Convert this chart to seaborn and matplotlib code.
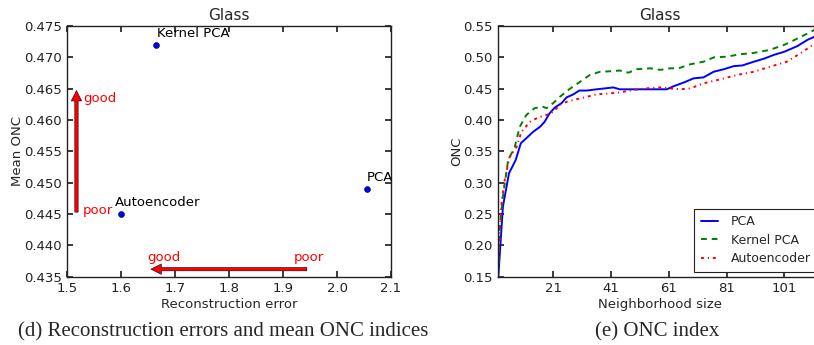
import matplotlib
matplotlib.use("Agg")
import matplotlib.pyplot as plt
import seaborn as sns
import pandas as pd

# ---------------- data ----------------
methods = ["PCA", "Kernel PCA", "Autoencoder"]
recon_error = [2.055, 1.665, 1.600]
mean_onc = [0.449, 0.472, 0.445]

pca_x = [2, 3.6, 5.7, 8, 9.8, 11.7, 14, 16.4, 18, 19.8, 21.6, 23.9, 25.6, 28, 30, 32.6, 36, 39,
         41.8, 44, 48.8, 55.7, 60.3, 62.7, 66, 69.6, 73, 76.5, 80, 83.5, 86.4, 90.4, 94, 97.4,
         101, 105.5, 109, 111.5, 114]
pca_y = [0.15, 0.262, 0.315, 0.336, 0.363, 0.371, 0.381, 0.389, 0.397, 0.411, 0.420, 0.427,
         0.436, 0.441, 0.447, 0.447, 0.449, 0.4505, 0.452, 0.449, 0.449, 0.449, 0.449, 0.454,
         0.4595, 0.4665, 0.468, 0.477, 0.481, 0.486, 0.487, 0.493, 0.498, 0.504, 0.509, 0.518,
         0.528, 0.533, 0.538]

kpca_x = [2, 2.5, 3.6, 5.4, 7.7, 9.4, 11.7, 14.6, 17.5, 18.7, 21, 23.3, 26.8, 30.3, 33.7, 37.2,
          41.8, 44, 47, 49.9, 54.5, 58, 61.5, 64.4, 68.5, 73, 76.6, 81, 85.8, 90.4, 96, 101,
          105.5, 109, 111.5, 114]
kpca_y = [0.172, 0.23, 0.278, 0.336, 0.357, 0.389, 0.408, 0.419, 0.421, 0.419, 0.427, 0.437,
          0.45, 0.461, 0.472, 0.477, 0.478, 0.479, 0.4755, 0.481, 0.4825, 0.48, 0.4825, 0.4825,
          0.489, 0.493, 0.5, 0.501, 0.505, 0.507, 0.512, 0.52, 0.53, 0.538, 0.544, 0.55]

ae_x = [2, 3, 4.2, 5.9, 8.3, 10, 12.9, 15.8, 18.7, 21, 23.3, 25.6, 29, 32.6, 36, 40.6, 44, 48.8,
        53.4, 58, 61.5, 65, 68.5, 73, 78.9, 84.7, 90.4, 96, 101.8, 106.4, 111.5, 114]
ae_y = [0.17, 0.262, 0.304, 0.341, 0.357, 0.381, 0.397, 0.404, 0.408, 0.413, 0.424, 0.429,
        0.433, 0.437, 0.441, 0.4425, 0.444, 0.448, 0.4505, 0.452, 0.4505, 0.449, 0.4505,
        0.4585, 0.465, 0.472, 0.477, 0.485, 0.493, 0.506, 0.522, 0.530]

left_xticks = [1.5, 1.6, 1.7, 1.8, 1.9, 2.0, 2.1]
left_yticks = [0.435, 0.440, 0.445, 0.450, 0.455, 0.460, 0.465, 0.470, 0.475]
right_xticks = [21, 41, 61, 81, 101]
right_yticks = [0.15, 0.20, 0.25, 0.30, 0.35, 0.40, 0.45, 0.50, 0.55]

# ---------------- style ----------------
sns.set_theme(style="ticks")
plt.rcParams.update({
    "font.family": ["DejaVu Sans"],
    "font.size": 9,
    "axes.edgecolor": "#222222",
    "axes.linewidth": 1.0,
    "xtick.direction": "in",
    "ytick.direction": "in",
    "xtick.top": True,
    "ytick.right": True,
    "xtick.major.size": 4,
    "ytick.major.size": 4,
    "xtick.color": "#222222",
    "ytick.color": "#222222",
    "xtick.labelsize": 9.5,
    "ytick.labelsize": 9.5,
    "xtick.major.pad": 4,
    "ytick.major.pad": 4,
})

W, H = 814, 345
fig = plt.figure(figsize=(W / 100, H / 100), dpi=100)

def rect(x0, y0, x1, y1):
    return [x0 / W, 1 - y1 / H, (x1 - x0) / W, (y1 - y0) / H]

ax1 = fig.add_axes(rect(67.3, 26, 391, 276.7))
ax2 = fig.add_axes(rect(498.3, 26, 822, 276.7))

# ---------------- left: scatter ----------------
df1 = pd.DataFrame({"err": recon_error, "onc": mean_onc, "method": methods})
sns.scatterplot(data=df1, x="err", y="onc", ax=ax1, color="#0000ff", s=18,
                edgecolor="black", linewidth=0.4, zorder=3)
offsets = {"PCA": (0.0, 0.0008), "Kernel PCA": (0.001, 0.0008), "Autoencoder": (-0.012, 0.0008)}
for m, xv, yv in zip(methods, recon_error, mean_onc):
    dx, dy = offsets[m]
    ax1.text(xv + dx, yv + dy, m, fontsize=9.5, ha="left", va="bottom", color="black")

arrow_kw = dict(facecolor="red", edgecolor="black", linewidth=0.4,
                width=2.4, headwidth=7.5, headlength=7.5, shrink=0)
ax1.annotate("", xy=(1.517, 0.4647), xytext=(1.517, 0.4453), arrowprops=arrow_kw)
ax1.annotate("", xy=(1.655, 0.4362), xytext=(1.944, 0.4362), arrowprops=arrow_kw)
ax1.text(1.529, 0.4635, "good", color="red", fontsize=9.5, ha="left", va="center")
ax1.text(1.529, 0.4455, "poor", color="red", fontsize=9.5, ha="left", va="center")
ax1.text(1.649, 0.4381, "good", color="red", fontsize=9.5, ha="left", va="center")
ax1.text(1.919, 0.4381, "poor", color="red", fontsize=9.5, ha="left", va="center")

ax1.set_xlim(1.5, 2.1)
ax1.set_ylim(0.435, 0.475)
ax1.set_xticks(left_xticks)
ax1.set_xticklabels([f"{v:.1f}" for v in left_xticks])
ax1.set_yticks(left_yticks)
ax1.set_yticklabels([f"{v:.3f}" for v in left_yticks])
ax1.set_xlabel("Reconstruction error", fontsize=9.5, labelpad=2)
ax1.set_ylabel("Mean ONC", fontsize=9.5, labelpad=0)
ax1.set_title("Glass", fontsize=11, pad=4)

# ---------------- right: lines ----------------
sns.lineplot(x=pca_x, y=pca_y, ax=ax2, color="#0000ff", linewidth=1.4, label="PCA")
sns.lineplot(x=kpca_x, y=kpca_y, ax=ax2, color="#008000", linewidth=1.4,
             linestyle=(0, (3, 2.5)), label="Kernel PCA")
sns.lineplot(x=ae_x, y=ae_y, ax=ax2, color="#ff0000", linewidth=1.4,
             linestyle=(0, (1.5, 2, 0.6, 2)), label="Autoencoder")
ax2.set_xlim(2, 114)
ax2.set_ylim(0.15, 0.55)
ax2.set_xticks(right_xticks)
ax2.set_yticks(right_yticks)
ax2.set_yticklabels([f"{v:.2f}" for v in right_yticks])
ax2.set_xlabel("Neighborhood size", fontsize=9.5, labelpad=2)
ax2.set_ylabel("ONC", fontsize=9.5, labelpad=0)
ax2.set_title("Glass", fontsize=11, pad=4)
leg = ax2.legend(loc="lower right", fontsize=9, handlelength=1.4, handletextpad=1.0,
                 labelspacing=0.45, borderpad=0.5, borderaxespad=0.4, fancybox=False,
                 framealpha=1, edgecolor="#222222")
leg.get_frame().set_linewidth(0.8)

# ---------------- captions ----------------
fig.text(223 / W, 1 - 332 / H, "(d) Reconstruction errors and mean ONC indices",
         family=["Liberation Serif"], fontsize=15, ha="center", va="center")
fig.text(657 / W, 1 - 332 / H, "(e) ONC index",
         family=["Liberation Serif"], fontsize=15, ha="center", va="center")

fig.savefig("out.png", dpi=100)
